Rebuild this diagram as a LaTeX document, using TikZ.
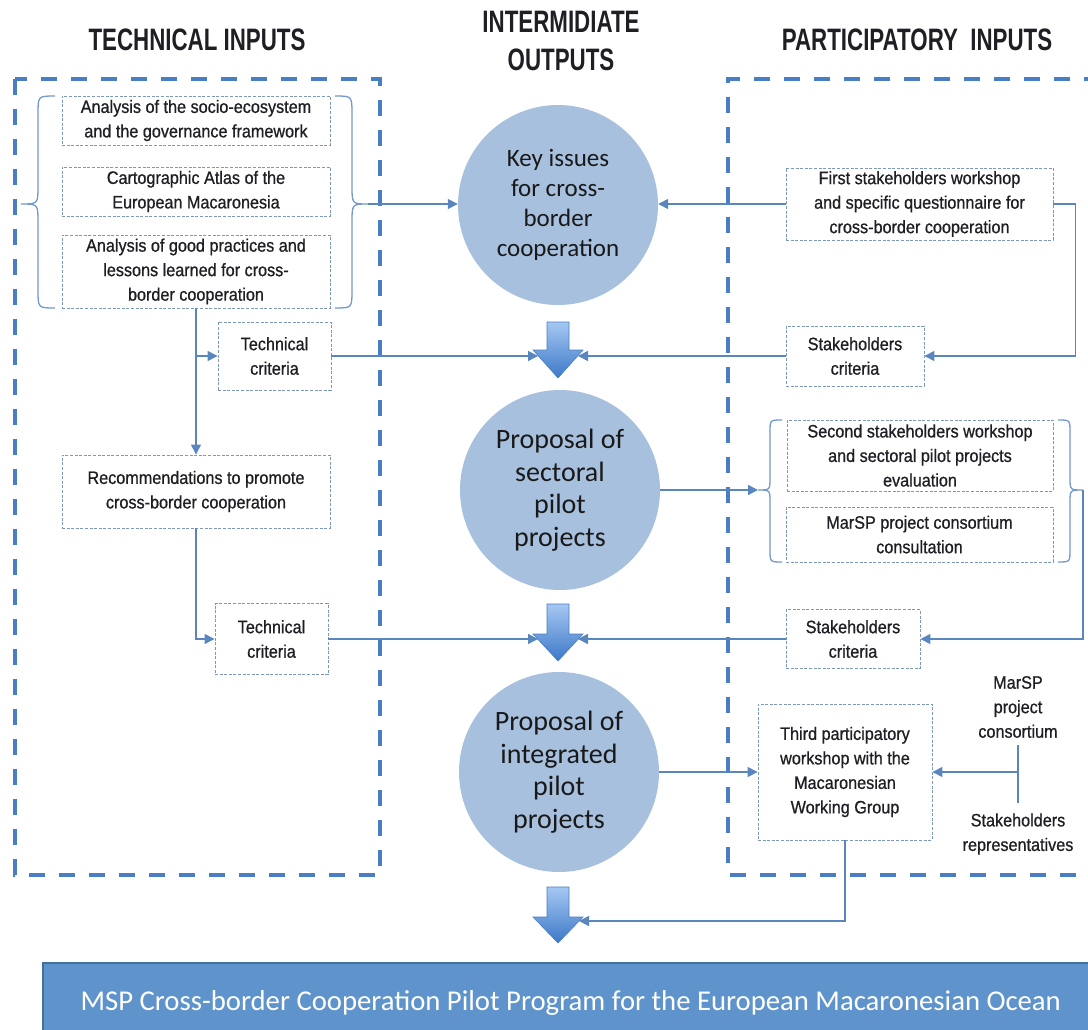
\documentclass[tikz,border=0pt]{standalone}
\usepackage{fontspec}
\usetikzlibrary{arrows.meta}
\newfontfamily\boxf[FakeStretch=0.9,FakeBold=0.8]{Liberation Sans}
\newfontfamily\headf[FakeStretch=0.72]{Liberation Sans}
\newfontfamily\calf{Carlito}
\definecolor{dblue}{HTML}{4A7EC4}
\definecolor{lnblue}{HTML}{5A86C0}
\definecolor{bxline}{HTML}{7D97BD}
\definecolor{circ}{HTML}{A7C0DE}
\definecolor{bannerf}{HTML}{5F93CC}
\definecolor{bannerb}{HTML}{41719C}
\definecolor{txt}{HTML}{1E1E24}
\definecolor{bartop}{HTML}{A6C8F2}
\definecolor{barbot}{HTML}{3C78C8}
\begin{document}
\begin{tikzpicture}[x=1pt,y=-1pt,
  bigdash/.style={draw=dblue, line width=4pt, dash pattern=on 16pt off 14pt},
  tbox/.style={draw=bxline, line width=0.9pt, dash pattern=on 3pt off 1.6pt, align=center, inner sep=0pt, text=txt, font=\boxf\fontsize{18}{24.5}\selectfont},
  conn/.style={draw=lnblue, line width=1.5pt},
  arr/.style={conn, -{Triangle[length=10pt,width=10pt]}},
  brc/.style={draw=lnblue!85, line width=1.3pt},
  circnode/.style={circle, fill=circ, minimum size=200pt, inner sep=0pt, align=center, text=black!90, font=\calf\fontsize{28}{32.5}\selectfont},
  head/.style={align=center, text=txt, font=\headf\bfseries\fontsize{31}{38}\selectfont},
  lbl/.style={align=center, text=txt, inner sep=2pt, font=\boxf\fontsize{18}{24.5}\selectfont},
  barrow/.style={top color=bartop, bottom color=barbot, draw=dblue, line width=0.6pt}
]
\clip (0,0) rectangle (1088,1030);

% headers
\node[head] (h1) at (197,40) {TECHNICAL INPUTS};
\node[head] (h2) at (561,41) {INTERMIDIATE\\OUTPUTS};
\node[head] (h3) at (917,40) {PARTICIPATORY\ \ INPUTS};

% big dashed frames
\draw[bigdash] (15,79) rectangle (380,875);
\draw[bigdash] (1100,79) -- (728,79) -- (728,875) -- (1100,875);

% left text boxes
\node[tbox, minimum width=268pt, minimum height=49pt] (a1) at (196,120.5) {Analysis of the socio-ecosystem\\and the governance framework};
\node[tbox, minimum width=268pt, minimum height=49pt] (a2) at (196,191.5) {Cartographic Atlas of the\\European Macaronesia};
\node[tbox, minimum width=268pt, minimum height=73pt] (a3) at (196,271.5) {Analysis of good practices and\\lessons learned for cross-\\border cooperation};
\node[tbox, minimum width=113pt, minimum height=68pt] (tc1) at (274.5,356) {Technical\\criteria};
\node[tbox, minimum width=268pt, minimum height=73pt] (rec) at (196,491.5) {Recommendations to promote\\cross-border cooperation};
\node[tbox, minimum width=113pt, minimum height=71pt] (tc2) at (271.5,639) {Technical\\criteria};

% right text boxes
\node[tbox, minimum width=267pt, minimum height=72pt] (fs) at (919.5,204) {First stakeholders workshop\\and specific questionnaire for\\cross-border cooperation};
\node[tbox, minimum width=138pt, minimum height=60pt] (sc1) at (855,356) {Stakeholders\\criteria};
\node[tbox, minimum width=266pt, minimum height=71pt] (s2) at (920,455.5) {Second stakeholders workshop\\and sectoral pilot projects\\evaluation};
\node[tbox, minimum width=267pt, minimum height=55pt] (mc) at (919.5,534.5) {MarSP project consortium\\consultation};
\node[tbox, minimum width=134pt, minimum height=59pt] (sc2) at (853,639) {Stakeholders\\criteria};
\node[tbox, minimum width=174pt, minimum height=136pt] (tp) at (845,772) {Third participatory\\workshop with the\\Macaronesian\\Working Group};
\node[lbl] (mpc) at (1018,707) {MarSP\\project\\consortium};
\node[lbl] (sr) at (1018,834) {Stakeholders\\representatives};

% braces
\draw[brc] (55,96) .. controls (38,96) .. (38,114) -- (38,186) .. controls (38,204) .. (21,204) .. controls (38,204) .. (38,222) -- (38,290) .. controls (38,308) .. (55,308);
\draw[brc] (335,96) .. controls (352,96) .. (352,114) -- (352,186) .. controls (352,204) .. (368,204) .. controls (352,204) .. (352,222) -- (352,290) .. controls (352,308) .. (335,308);
\coordinate (tb) at (368,204);
\draw[brc] (782,420) .. controls (770,420) .. (770,432) -- (770,478) .. controls (770,490) .. (758,490) .. controls (770,490) .. (770,502) -- (770,550) .. controls (770,562) .. (782,562);
\draw[brc] (1058,420) .. controls (1070,420) .. (1070,432) -- (1070,478) .. controls (1070,490) .. (1083,490) .. controls (1070,490) .. (1070,502) -- (1070,550) .. controls (1070,562) .. (1058,562);
\coordinate (lb2) at (758,490);
\coordinate (rb2) at (1083,490);

% circles
\node[circnode, font=\calf\fontsize{25}{30}\selectfont] (c1) at (558,205) {Key issues\\for cross-\\border\\cooperation};
\node[circnode] (c2) at (560,490) {Proposal of\\sectoral\\pilot\\projects};
\node[circnode] (c3) at (559,772) {Proposal of\\integrated\\pilot\\projects};

% block arrows
\shade[barrow] (547,322) -- (569,322) -- (569,350) -- (583,350) -- (558,378) -- (533,350) -- (547,350) -- cycle;
\shade[barrow] (547,604) -- (569,604) -- (569,634) -- (583,634) -- (558,661) -- (533,634) -- (547,634) -- cycle;
\shade[barrow] (547,887) -- (569,887) -- (569,917) -- (583,917) -- (558,943) -- (533,917) -- (547,917) -- cycle;
\coordinate (ba1l) at (538,356);
\coordinate (ba1r) at (578,356);
\coordinate (ba2l) at (538,639);
\coordinate (ba2r) at (578,639);
\coordinate (ba3r) at (579,921);

% banner
\node[draw=bannerb, line width=1.5pt, fill=bannerf, minimum width=1056pt, minimum height=80pt, inner sep=0pt, text=white, font=\calf\fontsize{28.7}{32}\selectfont, anchor=north west] (ban) at (42,962) {MSP Cross-border Cooperation Pilot Program for the European Macaronesian Ocean};

% connectors
\draw[arr] (tb) -- (c1.west |- tb);
\draw[arr] (a3.south) -- (rec.north);
\coordinate (j1) at (196,356);
\draw[arr] (j1) -- (tc1.west);
\draw[arr] (rec.south) |- (tc2.west);
\draw[arr] (tc1.east) -- (ba1l);
\draw[arr] (tc2.east) -- (ba2l);
\draw[arr] (fs.west) -- (c1.east |- fs.west);
\draw[arr] (fs.east) -- ++(22,0) |- (sc1.east);
\draw[arr] (sc1.west) -- (ba1r);
\draw[arr] (c2.east) -- (lb2);
\draw[arr] (rb2) |- (sc2.east);
\draw[arr] (sc2.west) -- (ba2r);
\draw[arr] (c3.east) -- (tp.west);
\draw[conn, shorten <=5pt, shorten >=8pt] (mpc.south) -- (sr.north);
\draw[arr] (mpc.south |- tp.east) -- (tp.east);
\draw[arr] (tp.south) |- (ba3r);
\end{tikzpicture}
\end{document}
